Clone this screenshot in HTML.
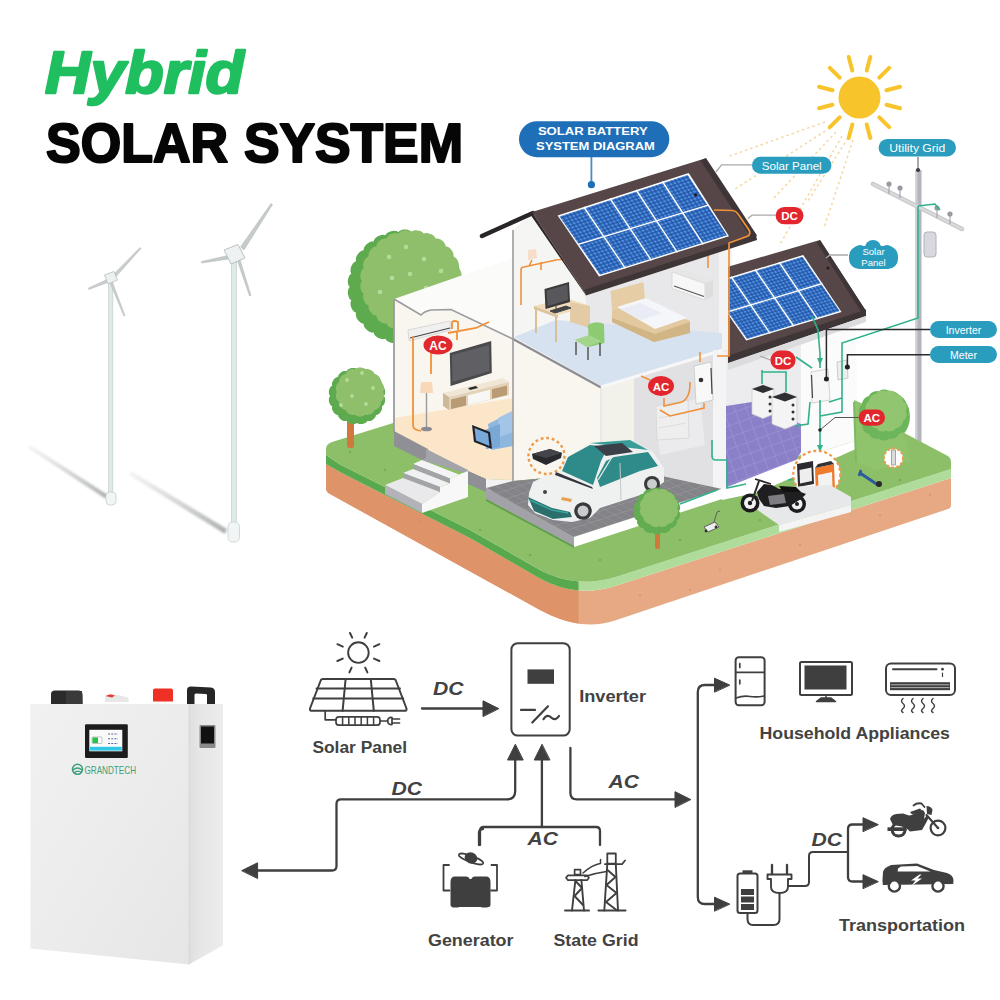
<!DOCTYPE html>
<html>
<head>
<meta charset="utf-8">
<style>
html,body{margin:0;padding:0;background:#fff;width:1000px;height:1000px;overflow:hidden;}
svg{display:block;}
text{font-family:"Liberation Sans",sans-serif;}
</style>
</head>
<body>
<svg width="1000" height="1000" viewBox="0 0 1000 1000">
<rect width="1000" height="1000" fill="#ffffff"/>

<!-- ============ TITLE ============ -->
<g id="title">
<text x="45" y="93" font-size="60" font-weight="bold" font-style="italic" fill="#1fbf60" stroke="#1fbf60" stroke-width="2.4" stroke-linejoin="round" textLength="199" lengthAdjust="spacingAndGlyphs">Hybrid</text>
<g fill="#060606" stroke="#060606" stroke-width="2.2" stroke-linejoin="round" font-size="55" font-weight="bold">
<text x="46" y="162" textLength="182" lengthAdjust="spacingAndGlyphs">SOLAR</text>
<text x="244" y="162" textLength="219" lengthAdjust="spacingAndGlyphs">SYSTEM</text>
</g>
</g>

<!-- ============ WIND TURBINES ============ -->
<g id="turbines">
<defs>
<filter id="blur3" x="-20%" y="-20%" width="140%" height="140%"><feGaussianBlur stdDeviation="2.2"/></filter>
<filter id="blur1" x="-20%" y="-20%" width="140%" height="140%"><feGaussianBlur stdDeviation="0.8"/></filter>
</defs>
<!-- shadows -->
<linearGradient id="sh1" gradientUnits="userSpaceOnUse" x1="28" y1="446" x2="108" y2="497"><stop offset="0" stop-color="#c4c6c6" stop-opacity="0.2"/><stop offset="1" stop-color="#a9acac" stop-opacity="0.95"/></linearGradient>
<linearGradient id="sh2" gradientUnits="userSpaceOnUse" x1="129" y1="472" x2="226" y2="532"><stop offset="0" stop-color="#c4c6c6" stop-opacity="0.2"/><stop offset="1" stop-color="#a9acac" stop-opacity="0.95"/></linearGradient>
<filter id="blur15" x="-20%" y="-20%" width="140%" height="140%"><feGaussianBlur stdDeviation="1.3"/></filter>
<path d="M30 445 L108 495 L106 499 L28 448 Z" fill="url(#sh1)" filter="url(#blur15)"/>
<path d="M131 471 L227 529 L225 534 L129 475 Z" fill="url(#sh2)" filter="url(#blur15)"/>
<!-- turbine 1 -->
<g>
<rect x="108.6" y="280" width="4.2" height="221" fill="#dfe9e7" stroke="#c3cfcd" stroke-width="0.7"/>
<rect x="106" y="492" width="10" height="13" rx="4" fill="#f2f5f5" stroke="#c8d0d0" stroke-width="0.8"/>
<path d="M111 277 L140 247.5 L141 248.5 L113 280 Z" fill="#c9cdcd" stroke="#b5baba" stroke-width="0.5"/>
<path d="M108 279 L88.5 288 L88.8 289.5 L109 282 Z" fill="#c9cdcd" stroke="#b5baba" stroke-width="0.5"/>
<path d="M112 281 L125 315.5 L123.8 316 L110 282.5 Z" fill="#c9cdcd" stroke="#b5baba" stroke-width="0.5"/>
<path d="M104.5 275 L114 271.5 L117.5 280 L108 284 Z" fill="#eef1f1" stroke="#b8bcbc" stroke-width="0.8"/>
</g>
<!-- turbine 2 -->
<g>
<rect x="231.4" y="252" width="5" height="286" fill="#dfe9e7" stroke="#c3cfcd" stroke-width="0.7"/>
<rect x="228" y="522" width="11.5" height="20" rx="4.5" fill="#f2f5f5" stroke="#c8d0d0" stroke-width="0.8"/>
<path d="M240.5 247 L271 203.5 L272.5 204.5 L244 250 Z" fill="#c5caca" stroke="#b0b6b6" stroke-width="0.5"/>
<path d="M228 255.5 L201.5 261.5 L201.8 263 L229 259 Z" fill="#c5caca" stroke="#b0b6b6" stroke-width="0.5"/>
<path d="M239.5 258 L251 295.5 L249.5 296 L237 259.5 Z" fill="#c5caca" stroke="#b0b6b6" stroke-width="0.5"/>
<path d="M224 250 L238 244.5 L245 258 L231 264 Z" fill="#eef1f1" stroke="#b5baba" stroke-width="0.9"/>
</g>
</g>

<!-- ============ HOUSE ============ -->
<g id="house">
<defs>
<pattern id="cells" width="1" height="1" patternUnits="userSpaceOnUse" patternTransform="matrix(3.746 -1.214 2.07 3.05 557.6 215.5)">
<rect width="1" height="1" fill="#1f50a6"/>
<rect x="0.17" y="0.17" width="0.66" height="0.66" fill="#5294de"/>
</pattern>
<pattern id="cells2" width="1" height="1" patternUnits="userSpaceOnUse" patternTransform="matrix(3.44 -1.036 1.9625 2.825 707 284)">
<rect width="1" height="1" fill="#1f50a6"/>
<rect x="0.17" y="0.17" width="0.66" height="0.66" fill="#5294de"/>
</pattern>
<pattern id="tiles" width="1" height="1" patternUnits="userSpaceOnUse" patternTransform="matrix(10 5.3 8 -2.6 486 488)">
<rect width="1" height="1" fill="#838388"/>
<path d="M0 0 H1 M0 0 V1" stroke="#9b9ba0" stroke-width="0.12"/>
</pattern>
<pattern id="ptiles" width="11" height="11" patternUnits="userSpaceOnUse" patternTransform="rotate(-20)">
<rect width="11" height="11" fill="#8a80c8"/>
<path d="M0 0 H11 M0 0 V11" stroke="#a59ddb" stroke-width="1"/>
</pattern>
</defs>

<!-- sun dashed rays -->
<g stroke="#f5d7a4" stroke-width="1.5" stroke-dasharray="2.5 3" fill="none">
<path d="M825 122 L727 157"/>
<path d="M830 128 L735 189"/>
<path d="M836 132 L772 200"/>
<path d="M842 136 L779 246"/>
<path d="M848 138 L808 201"/>
<path d="M853 140 L824 228"/>
</g>
<!-- sun -->
<g>
<circle cx="859.5" cy="97.5" r="21" fill="#f8c42b"/>
<g stroke="#f8c42b" stroke-width="4" stroke-linecap="round">
<path d="M866.7 70.5 L870.3 57 M879.3 77.7 L889.2 67.8 M886.5 90.3 L900 86.7 M886.5 104.7 L900 108.3 M879.3 117.3 L889.2 127.2 M866.7 124.5 L870.3 138 M852.3 124.5 L848.7 138 M839.7 117.3 L829.8 127.2 M832.5 104.7 L819 108.3 M832.5 90.3 L819 86.7 M839.7 77.7 L829.8 67.8 M852.3 70.5 L848.7 57"/>
</g>
</g>

<!-- big tree back left -->
<g>
<path d="M460.3 287.0 L461.5 288.7 L462.0 290.4 L462.2 292.2 L462.1 293.9 L461.7 295.6 L461.2 297.3 L460.3 298.9 L458.7 300.2 L459.5 302.2 L459.5 304.0 L459.3 305.7 L458.8 307.4 L458.0 309.0 L457.1 310.4 L455.8 311.7 L454.0 312.7 L454.2 314.8 L453.9 316.5 L453.2 318.2 L452.3 319.7 L451.2 321.0 L449.9 322.2 L448.4 323.2 L446.4 323.7 L446.2 325.8 L445.4 327.4 L444.3 328.8 L443.1 330.0 L441.7 331.1 L440.2 331.9 L438.5 332.5 L436.4 332.5 L435.7 334.5 L434.5 335.9 L433.2 337.0 L431.7 337.9 L430.1 338.6 L428.4 339.1 L426.6 339.2 L424.6 338.7 L423.4 340.4 L422.0 341.5 L420.4 342.3 L418.8 342.8 L417.0 343.1 L415.3 343.2 L413.5 342.9 L411.7 341.9 L410.1 343.3 L408.4 344.0 L406.7 344.4 L405.0 344.5 L403.3 344.4 L401.6 344.0 L399.9 343.3 L398.3 341.9 L396.5 342.9 L394.7 343.2 L393.0 343.1 L391.2 342.8 L389.6 342.3 L388.0 341.5 L386.6 340.4 L385.4 338.7 L383.4 339.2 L381.6 339.1 L379.9 338.6 L378.3 337.9 L376.8 337.0 L375.5 335.9 L374.3 334.5 L373.6 332.5 L371.5 332.5 L369.8 331.9 L368.3 331.1 L366.9 330.0 L365.7 328.8 L364.6 327.4 L363.8 325.8 L363.6 323.7 L361.6 323.2 L360.1 322.2 L358.8 321.0 L357.7 319.7 L356.8 318.2 L356.1 316.5 L355.8 314.8 L356.0 312.7 L354.2 311.7 L352.9 310.4 L352.0 309.0 L351.2 307.4 L350.7 305.7 L350.5 304.0 L350.5 302.2 L351.3 300.2 L349.7 298.9 L348.8 297.3 L348.3 295.6 L347.9 293.9 L347.8 292.2 L348.0 290.4 L348.5 288.7 L349.7 287.0 L348.5 285.3 L348.0 283.6 L347.8 281.8 L347.9 280.1 L348.3 278.4 L348.8 276.7 L349.7 275.1 L351.3 273.8 L350.5 271.8 L350.5 270.0 L350.7 268.3 L351.2 266.6 L352.0 265.0 L352.9 263.6 L354.2 262.3 L356.0 261.3 L355.8 259.2 L356.1 257.5 L356.8 255.8 L357.7 254.3 L358.8 253.0 L360.1 251.8 L361.6 250.8 L363.6 250.3 L363.8 248.2 L364.6 246.6 L365.7 245.2 L366.9 244.0 L368.3 242.9 L369.8 242.1 L371.5 241.5 L373.6 241.5 L374.3 239.5 L375.5 238.1 L376.8 237.0 L378.3 236.1 L379.9 235.4 L381.6 234.9 L383.4 234.8 L385.4 235.3 L386.6 233.6 L388.0 232.5 L389.6 231.7 L391.2 231.2 L393.0 230.9 L394.7 230.8 L396.5 231.1 L398.3 232.1 L399.9 230.7 L401.6 230.0 L403.3 229.6 L405.0 229.5 L406.7 229.6 L408.4 230.0 L410.1 230.7 L411.7 232.1 L413.5 231.1 L415.3 230.8 L417.0 230.9 L418.8 231.2 L420.4 231.7 L422.0 232.5 L423.4 233.6 L424.6 235.3 L426.6 234.8 L428.4 234.9 L430.1 235.4 L431.7 236.1 L433.2 237.0 L434.5 238.1 L435.7 239.5 L436.4 241.5 L438.5 241.5 L440.2 242.1 L441.7 242.9 L443.1 244.0 L444.3 245.2 L445.4 246.6 L446.2 248.2 L446.4 250.3 L448.4 250.8 L449.9 251.8 L451.2 253.0 L452.3 254.3 L453.2 255.8 L453.9 257.5 L454.2 259.2 L454.0 261.3 L455.8 262.3 L457.1 263.6 L458.0 265.0 L458.8 266.6 L459.3 268.3 L459.5 270.0 L459.5 271.8 L458.7 273.8 L460.3 275.1 L461.2 276.7 L461.7 278.4 L462.1 280.1 L462.2 281.8 L462.0 283.6 L461.5 285.3 Z" fill="#5daa4f"/>
<path d="M460.0 281.0 L461.1 282.6 L461.5 284.3 L461.7 286.0 L461.6 287.7 L461.2 289.3 L460.7 290.9 L459.8 292.4 L458.3 293.7 L459.0 295.6 L458.9 297.3 L458.6 298.9 L458.1 300.5 L457.4 302.0 L456.4 303.4 L455.2 304.6 L453.4 305.5 L453.6 307.5 L453.1 309.1 L452.4 310.7 L451.5 312.0 L450.4 313.3 L449.1 314.4 L447.6 315.3 L445.6 315.6 L445.3 317.6 L444.4 319.1 L443.3 320.4 L442.0 321.5 L440.7 322.4 L439.1 323.1 L437.5 323.6 L435.5 323.4 L434.6 325.2 L433.4 326.4 L432.0 327.4 L430.5 328.1 L428.9 328.6 L427.3 328.9 L425.6 329.0 L423.7 328.3 L422.4 329.8 L420.9 330.7 L419.3 331.2 L417.7 331.6 L416.0 331.7 L414.3 331.5 L412.6 331.1 L411.0 330.0 L409.4 331.1 L407.7 331.5 L406.0 331.7 L404.3 331.6 L402.7 331.2 L401.1 330.7 L399.6 329.8 L398.3 328.3 L396.4 329.0 L394.7 328.9 L393.1 328.6 L391.5 328.1 L390.0 327.4 L388.6 326.4 L387.4 325.2 L386.5 323.4 L384.5 323.6 L382.9 323.1 L381.3 322.4 L380.0 321.5 L378.7 320.4 L377.6 319.1 L376.7 317.6 L376.4 315.6 L374.4 315.3 L372.9 314.4 L371.6 313.3 L370.5 312.0 L369.6 310.7 L368.9 309.1 L368.4 307.5 L368.6 305.5 L366.8 304.6 L365.6 303.4 L364.6 302.0 L363.9 300.5 L363.4 298.9 L363.1 297.3 L363.0 295.6 L363.7 293.7 L362.2 292.4 L361.3 290.9 L360.8 289.3 L360.4 287.7 L360.3 286.0 L360.5 284.3 L360.9 282.6 L362.0 281.0 L360.9 279.4 L360.5 277.7 L360.3 276.0 L360.4 274.3 L360.8 272.7 L361.3 271.1 L362.2 269.6 L363.7 268.3 L363.0 266.4 L363.1 264.7 L363.4 263.1 L363.9 261.5 L364.6 260.0 L365.6 258.6 L366.8 257.4 L368.6 256.5 L368.4 254.5 L368.9 252.9 L369.6 251.3 L370.5 250.0 L371.6 248.7 L372.9 247.6 L374.4 246.7 L376.4 246.4 L376.7 244.4 L377.6 242.9 L378.7 241.6 L380.0 240.5 L381.3 239.6 L382.9 238.9 L384.5 238.4 L386.5 238.6 L387.4 236.8 L388.6 235.6 L390.0 234.6 L391.5 233.9 L393.1 233.4 L394.7 233.1 L396.4 233.0 L398.3 233.7 L399.6 232.2 L401.1 231.3 L402.7 230.8 L404.3 230.4 L406.0 230.3 L407.7 230.5 L409.4 230.9 L411.0 232.0 L412.6 230.9 L414.3 230.5 L416.0 230.3 L417.7 230.4 L419.3 230.8 L420.9 231.3 L422.4 232.2 L423.7 233.7 L425.6 233.0 L427.3 233.1 L428.9 233.4 L430.5 233.9 L432.0 234.6 L433.4 235.6 L434.6 236.8 L435.5 238.6 L437.5 238.4 L439.1 238.9 L440.7 239.6 L442.0 240.5 L443.3 241.6 L444.4 242.9 L445.3 244.4 L445.6 246.4 L447.6 246.7 L449.1 247.6 L450.4 248.7 L451.5 250.0 L452.4 251.3 L453.1 252.9 L453.6 254.5 L453.4 256.5 L455.2 257.4 L456.4 258.6 L457.4 260.0 L458.1 261.5 L458.6 263.1 L458.9 264.7 L459.0 266.4 L458.3 268.3 L459.8 269.6 L460.7 271.1 L461.2 272.7 L461.6 274.3 L461.7 276.0 L461.5 277.7 L461.1 279.4 Z" fill="#8fbf6b"/>
<g fill="#b3dc99"><circle cx="389" cy="257" r="2.3"/><circle cx="406" cy="247" r="2.3"/><circle cx="424" cy="259" r="2.3"/><circle cx="392" cy="278" r="2.3"/><circle cx="410" cy="274" r="2.3"/><circle cx="441" cy="271" r="2.3"/><circle cx="380" cy="292" r="2.3"/><circle cx="426" cy="288" r="2.3"/></g>
</g>
<!-- right tree -->
<g>
<circle cx="884" cy="417" r="26" fill="#6fb85a"/>
<circle cx="887" cy="413" r="22" fill="#8cc86f"/>
</g>

<!-- utility pole -->
<g>
<rect x="915.5" y="170" width="6" height="290" fill="#b4b4bc"/>
<rect x="915.5" y="170" width="2" height="290" fill="#cfd0d6"/>
<path d="M873 184 L962 229" stroke="#c8c8cc" stroke-width="4.5" stroke-linecap="round"/>
<path d="M873 184 L962 229" stroke="#dadade" stroke-width="2" stroke-linecap="round"/>
<g fill="#9a9aa2"><circle cx="889" cy="184" r="2.6"/><circle cx="900" cy="188" r="2.6"/><circle cx="937" cy="208" r="2.6"/><circle cx="950" cy="214" r="2.6"/></g>
<g stroke="#9a9aa2" stroke-width="1"><path d="M889 186 V194 M900 190 V198 M937 210 V218 M950 216 V224"/></g>
<rect x="924" y="232" width="12" height="25" rx="3" fill="#d8d8de" stroke="#b2b2ba" stroke-width="1"/>
<circle cx="918" cy="170" r="2" fill="#333"/>
<path d="M918 157 V170" stroke="#555" stroke-width="1"/>
</g>

<!-- ================= PLATFORM ================= -->
<g>
<clipPath id="leftface"><path d="M300 300 L578.5 300 L578.5 700 L300 700 Z"/></clipPath>
<!-- soil -->
<path d="M326 464 L340 472 L470 538 L540 578.5 Q576.3 598.3 615 586 L951 478 L951 505 Q951 508 948 509 L615 620.4 Q580 632 540 610 L330 494 Q326 492 326 488 Z" fill="#e7a983"/>
<path d="M326 464 L340 472 L470 538 L540 578.5 Q576.3 598.3 615 586 L951 478 L951 505 Q951 508 948 509 L615 620.4 Q580 632 540 610 L330 494 Q326 492 326 488 Z" fill="#de9369" clip-path="url(#leftface)"/>
<g fill="#cf845c" opacity="0.6"><circle cx="360" cy="488" r="1"/><circle cx="420" cy="522" r="1"/><circle cx="470" cy="560" r="1"/><circle cx="520" cy="587" r="1"/><circle cx="640" cy="595" r="1"/><circle cx="720" cy="570" r="1"/><circle cx="800" cy="545" r="1"/><circle cx="880" cy="515" r="1"/><circle cx="560" cy="605" r="1"/><circle cx="400" cy="502" r="1"/><circle cx="930" cy="495" r="1"/><circle cx="690" cy="590" r="1"/></g>
<!-- grass side bands -->
<path d="M326 455 L340 464.5 L470 530 L540 570 Q576.2 589 615 577.3 L951 469 L951 478 L615 586 Q576.3 598.3 540 578.5 L470 538 L340 472 L326 464 Z" fill="#afdc9b"/>
<path d="M326 455 L340 464.5 L470 530 L540 570 Q576.2 589 615 577.3 L951 469 L951 478 L615 586 Q576.3 598.3 540 578.5 L470 538 L340 472 L326 464 Z" fill="#58a94e" clip-path="url(#leftface)"/>
<!-- grass top -->
<path d="M332 442 L703 327 L946 455 Q951 457 951 462 L951 469 L615 577.3 Q576.2 589 540 570 L470 530 L340 464.5 L326 455 L326 449 Q326 444 332 442 Z" fill="#8dbf69"/>
<g fill="#76ab57"><circle cx="385" cy="470" r="1.2"/><circle cx="430" cy="500" r="1.2"/><circle cx="480" cy="530" r="1.2"/><circle cx="530" cy="555" r="1.2"/><circle cx="600" cy="560" r="1.2"/><circle cx="680" cy="540" r="1.2"/><circle cx="760" cy="520" r="1.2"/><circle cx="900" cy="480" r="1.2"/><circle cx="350" cy="452" r="1.2"/></g>
</g>

<!-- ================= HOUSE BODY ================= -->
<!-- white building mass (occludes tree) -->
<path d="M394 299 L463 275 L513 258 L513 230 L532 213 L584 291 L601 387 L601 480 L394 433 Z" fill="#fbfbfa"/>
<!-- living room interior -->
<path d="M395 300 L421 315 Q425 311 431 310 L451 309.5 L513 339 L513 480 L395 433 Z" fill="#f8f6ef"/>
<path d="M394 299 L421 315 Q425 311 431 310 L451 309.5 L513 339" fill="none" stroke="#9b9b9e" stroke-width="1.6"/>
<path d="M394 299 L394 433" stroke="#9b9b9e" stroke-width="1.8"/>
<!-- living floor -->
<path d="M395 418 L513 398 L513 480 L486 479 L468 471 L428 450 L395 433 Z" fill="#fce6ca"/>
<!-- TV -->
<path d="M449.8 353 L491.2 341 L491.8 373 L450.5 386 Z" fill="#4a4a4c"/>
<path d="M452 355 L489 345 L489.5 371 L452.5 382 Z" fill="#606064"/>
<!-- TV stand -->
<path d="M443 393 L503 378 L509 382 L449 397 Z" fill="#f0e6d6"/>
<path d="M449 397 L509 382 L509 395 L449 410 Z" fill="#e3d2b8"/>
<path d="M443 393 L449 397 L449 410 L443 406 Z" fill="#cdb898"/>
<path d="M451 399.5 L466 395.8 L466 405.5 L451 409 Z" fill="#b99c76"/>
<path d="M468 395.3 L490 389.8 L490 399.5 L468 405 Z" fill="#f7f7f5"/>
<path d="M492 389.3 L507 385.6 L507 395 L492 398.8 Z" fill="#b99c76"/>
<path d="M468 388 L476 386 L478 388 L470 390 Z" fill="#2a2a2a"/>
<!-- lamp -->
<path d="M421 382 L432 382 L433 393 L420 393 Z" fill="#f8d8b8"/>
<path d="M426.5 393 L426.5 427" stroke="#9a9a9a" stroke-width="1.4"/>
<ellipse cx="426.5" cy="429" rx="5.5" ry="2.3" fill="#8a8a90"/>
<!-- AC unit -->
<path d="M408 330 L450 321 L451 330 L409 341 Z" fill="#f0f0f0" stroke="#d0d0d0" stroke-width="0.8"/>
<path d="M410 338 L450 328" stroke="#444" stroke-width="1.2"/>
<!-- sofa -->
<path d="M488 424 L512 412 L513 446 L492 450 Z" fill="#8db7df"/>
<path d="M498 418 L512 411 L513 432 L499 437 Z" fill="#a3c6e8"/>
<path d="M485 430 L500 424 L500 447 L486 449 Z" fill="#7aa8d6"/>
<path d="M472 425 L490 432 L492 449 L474 442 Z" fill="#1f1f24"/>
<path d="M474.5 428 L488 433.5 L489.5 446 L476 440.5 Z" fill="#77a9da"/>
<!-- orange pipes living -->
<g fill="none" stroke="#f0913a" stroke-width="1.8">
<path d="M431 374 L431 349 Q431 346 434 346 L438 345"/>
<path d="M413 336 L413 425 Q413 429 417 430 L421 431"/>
<path d="M448 333 L476 328 L489 322 M457 331 L457 340 M452 329 L452 323 Q452 321 455 321 L458 322 L458 330"/>
</g>
<!-- AC label -->
<ellipse cx="438" cy="345" rx="14.5" ry="9.5" fill="#e0282e"/>
<text x="438" y="350" font-size="12" font-weight="bold" fill="#fff" text-anchor="middle">AC</text>

<!-- foundation under living room -->
<path d="M394 431 L428 449 L428 463 L394 446 Z" fill="#8f8f95"/>
<path d="M468 471 L486 479 L486 492 L468 484 Z" fill="#8f8f95"/>
<path d="M486 479 L513 480 L513 490 L486 492 Z" fill="#f2f2f2"/>
<!-- steps -->
<path d="M426 449 L468 470 L468 474 L422 460 L426 458 Z" fill="#a3a3aa"/>
<path d="M413 464 L450 478.5 L459 474.5 L422 460 Z" fill="#f4f4f6"/>
<path d="M413 464 L450 478.5 L450 483.5 L413 469 Z" fill="#a3a3aa"/>
<path d="M403 473 L440 487 L450 483.5 L413 469 Z" fill="#f1f1f3"/>
<path d="M403 473 L440 487 L440 492 L403 478 Z" fill="#a3a3aa"/>
<path d="M385 485 L403 478 L440 492 L422 504 Z" fill="#e9e9ec"/>
<path d="M385 485 L422 504 L422 513 L385 494 Z" fill="#b2b2b8"/>
<path d="M468 471 L459 474.5 L450 478.5 L450 483.5 L440 487 L440 492 L422 504 L422 513 L468 497 Z" fill="#f8f8f8"/>
<!-- ground floor garage back wall (cream) -->
<path d="M513 339 L601 387 L634 378 L634 470 L513 481 Z" fill="#f8f6ee"/>
<!-- utility room grey -->
<path d="M634 356 L723 349 L723 490 L634 470 Z" fill="#e1e1e3"/>
<path d="M655 410 L700 398 L705 445 L660 455 Z" fill="#ebebed"/>
<!-- column between garage & utility -->
<path d="M601 387 L634 378 L634 470 L601 475 Z" fill="#f2f1ea"/>

<!-- upper floor interior -->
<path d="M513 230 L532 213 L584 291 L601 387 L513 339 Z" fill="#f5f5f4"/>
<path d="M584 291 L721 249 L723 349 L601 387 Z" fill="#e8e8ea"/>
<path d="M719 250 L732 246 L732 362 L719 362 Z" fill="#f3f3f3"/>
<!-- upper floor blue floor -->
<path d="M514 337 L556 320 L722 333 L722 349 L601 386 Z" fill="#d6e2ef"/>
<path d="M513 339 L601 387.5" stroke="#8c8c90" stroke-width="2"/>
<path d="M601 387 L723 350" stroke="#f7f7f7" stroke-width="3"/>
<!-- bed -->
<path d="M610.5 291 L643.5 282 L645 300 L612 310.5 Z" fill="#e6cda5"/>
<path d="M612 310.5 L645 300 L690 321 L690 333 L654 342 L612 322 Z" fill="#e2c9a0"/>
<path d="M617 307 L646 298 L687 318 L655 329 Z" fill="#f5f6fa"/>
<path d="M620 309 L640 303 L662 313 L641 320 Z" fill="#e9ecf4"/>
<path d="M612 318 L655 334 L690 322 L690 333 L654 342 L612 322 Z" fill="#d2b585"/>
<!-- desk + monitor -->
<path d="M534 306 L566 298 L590 306 L558 315 Z" fill="#f0ddbc"/>
<path d="M534 306 L558 315 L558 318 L534 309 Z" fill="#dcc49c"/>
<path d="M536 309 L536 333 M556 317 L556 342 M588 308 L588 328" stroke="#d9bf95" stroke-width="2"/>
<path d="M570 302 L590 306 L590 328 L570 322 Z" fill="#e3cba5"/>
<path d="M544.5 289 L569 282 L570 302 L545.5 309 Z" fill="#3a3a3d"/>
<path d="M546.5 290.5 L567.5 284.5 L568 300 L547.5 306 Z" fill="#58585c"/>
<path d="M556 306 L556 310 M550 311 L566 306 L571 308 L555 313 Z" fill="#444" stroke="#444" stroke-width="1"/>
<!-- chair -->
<path d="M588 325 Q596 320 604 324 L604.5 343 L589 347 Z" fill="#8ccb72"/>
<path d="M574.5 340 L589 335 L601 341 L587 347 Z" fill="#a3d68a"/>
<path d="M576 342 L576 355 M588 347 L588 360 M600 343 L600 356" stroke="#555" stroke-width="1.5"/>
<!-- wall AC upper -->
<path d="M672 272 L680 269.5 L713 280.5 L705 283.5 Z" fill="#e6e6e6"/>
<path d="M672 272 L705 283.5 L705 300 L672 288.5 Z" fill="#f7f7f7" stroke="#d6d6d6" stroke-width="0.8"/>
<path d="M705 283.5 L713 280.5 L713 297 L705 300 Z" fill="#dedede"/>
<path d="M674 286 L704 296.5" stroke="#555" stroke-width="1.2"/>
<!-- upper pipes -->
<g fill="none" stroke="#f0913a" stroke-width="1.6">
<path d="M521 305 L521 270 Q521 267 524 267 L556 260 L573 258 M541 262 L541 270 M529 266 L532 260"/>
<path d="M708 255 L708 268"/>
</g>
<!-- lamp upper -->
<path d="M528 250 L536 249 L537 258 L528 260 Z" fill="#f8d8c0" opacity="0.8"/>
<!-- gable wall left edge line -->
<path d="M513 230 L513 481" stroke="#9b9b9e" stroke-width="1.6"/>
<path d="M601 387 L601 478" stroke="#dcdcd8" stroke-width="1"/>

<!-- battery room (right section) -->
<path d="M723 350 L801 342 L801 455 L723 490 Z" fill="#ececee"/>
<path d="M726 406 L752 402 L801 424 L801 452 L790 470 L726 488 Z" fill="url(#ptiles)"/>
<!-- right outer wall -->
<path d="M801 343 L856 326 L858 440 L801 458 Z" fill="#fbfbfb"/>
<!-- column left of purple -->
<path d="M713 350 L726 352 L726 490 L713 490 Z" fill="#f4f4f4"/>

<!-- driveway -->
<path d="M486 488 L513 481 L634 470 L722 489 L574 537 Z" fill="url(#tiles)"/>
<path d="M486 488 L574 537 L574 546 L486 499 Z" fill="#a2a2a8"/>
<path d="M486 499 L574 546 L574 548 L486 501 Z" fill="#5f9e4c"/>
<path d="M574 537 L722 489 L722 499 L574 547 Z" fill="#ffffff"/>
<!-- front strip / walkway on right -->
<path d="M722 489 L801 458 L858 440 L858 448 L760 492 L722 500 Z" fill="#ffffff"/>

<!-- ================= ROOFS ================= -->
<!-- gable eave line -->
<path d="M482 236 L533 213" stroke="#2a2628" stroke-width="4.5" stroke-linecap="round"/>
<!-- main roof -->
<path d="M532 212 L705 158.5 L756.5 236 L584 291.5 Z" fill="#564648"/>
<path d="M706 158 L757 235.5 L751 237.5 L700.5 160.5 Z" fill="#3e3537"/>
<path d="M583.5 290 L756 234.5 L757 240 L586 295.5 Z" fill="#3e3537"/>
<path d="M532 212 L584 291.5 L586 295.5 L530 214 Z" fill="#2e2829"/>
<!-- main panels -->
<path d="M557.6 215.5 L688.7 173 L729 236.2 L599 276.5 Z" fill="#ffffff"/>
<path d="M559.5 216.5 L687.7 175 L727 235.3 L600 274.8 Z" fill="url(#cells)"/>
<g stroke="#ffffff" stroke-width="1.4">
<path d="M578.3 244.3 L708.2 205.2"/>
<path d="M583.8 207.0 L625.4 268.4 M610.0 198.5 L651.4 260.4 M636.2 190.0 L677.4 252.3 M662.4 181.5 L703.3 244.3"/>
</g>
<circle cx="695.6" cy="194.8" r="1.6" fill="#1a1a1a"/>
<!-- second roof -->
<clipPath id="r2clip"><path d="M728 200 L900 200 L900 400 L728 400 Z"/></clipPath>
<g clip-path="url(#r2clip)">
<path d="M700 275 L820 240 L866 311 L728 358 L700 366 Z" fill="#564648"/>
<path d="M820 240 L866 311 L862 313 L817 243 Z" fill="#3e3537"/>
<path d="M700 365 L866 309.5 L866 316 L700 373 Z" fill="#3e3537"/>
<path d="M707 284 L803.25 255 L841.5 312 L746.25 340.5 Z" fill="#ffffff"/>
<path d="M708.5 285 L802.5 256.8 L839.7 311 L747 339 Z" fill="url(#cells2)"/>
<g stroke="#ffffff" stroke-width="1.4">
<path d="M726.6 312.25 L822.4 283.5"/>
<path d="M731.1 276.75 L770.1 333.4 M755.1 269.5 L793.9 326.25 M779.2 262.25 L817.7 319.1"/>
</g>
<circle cx="828" cy="268" r="1.6" fill="#222"/>
</g>
<!-- soffit under 2nd roof -->
<path d="M728 363 L866 316 L866 322 L728 370 Z" fill="#dcdcdf"/>
<!-- hedge / green wall right -->
<path d="M854 400 L900 420 L910 460 L878 470 L856 462 Z" fill="#8fc46d"/>
<path d="M908.0 415.0 L908.8 416.4 L909.1 417.8 L909.1 419.3 L908.9 420.7 L908.4 422.0 L907.8 423.3 L907.0 424.5 L905.6 425.4 L905.7 427.0 L905.4 428.4 L904.7 429.7 L903.9 430.9 L903.0 431.9 L901.8 432.8 L900.6 433.5 L899.0 433.8 L898.4 435.3 L897.4 436.4 L896.3 437.3 L895.1 438.0 L893.7 438.5 L892.3 438.8 L890.9 438.9 L889.3 438.4 L888.2 439.5 L886.8 440.1 L885.4 440.4 L884.0 440.5 L882.6 440.4 L881.2 440.1 L879.8 439.5 L878.7 438.4 L877.1 438.9 L875.7 438.8 L874.3 438.5 L872.9 438.0 L871.7 437.3 L870.6 436.4 L869.6 435.3 L869.0 433.8 L867.4 433.5 L866.2 432.8 L865.0 431.9 L864.1 430.9 L863.3 429.7 L862.6 428.4 L862.3 427.0 L862.4 425.4 L861.0 424.5 L860.2 423.3 L859.6 422.0 L859.1 420.7 L858.9 419.3 L858.9 417.8 L859.2 416.4 L860.0 415.0 L859.2 413.6 L858.9 412.2 L858.9 410.7 L859.1 409.3 L859.6 408.0 L860.2 406.7 L861.0 405.5 L862.4 404.6 L862.3 403.0 L862.6 401.6 L863.3 400.3 L864.1 399.1 L865.0 398.1 L866.2 397.2 L867.4 396.5 L869.0 396.2 L869.6 394.7 L870.6 393.6 L871.7 392.7 L872.9 392.0 L874.3 391.5 L875.7 391.2 L877.1 391.1 L878.7 391.6 L879.8 390.5 L881.2 389.9 L882.6 389.6 L884.0 389.5 L885.4 389.6 L886.8 389.9 L888.2 390.5 L889.3 391.6 L890.9 391.1 L892.3 391.2 L893.7 391.5 L895.1 392.0 L896.3 392.7 L897.4 393.6 L898.4 394.7 L899.0 396.2 L900.6 396.5 L901.8 397.2 L903.0 398.1 L903.9 399.1 L904.7 400.3 L905.4 401.6 L905.7 403.0 L905.6 404.6 L907.0 405.5 L907.8 406.7 L908.4 408.0 L908.9 409.3 L909.1 410.7 L909.1 412.2 L908.8 413.6 Z" fill="#6db55a"/>
<path d="M905.6 411.0 L906.3 412.3 L906.6 413.7 L906.5 415.1 L906.3 416.4 L905.8 417.7 L905.2 418.9 L904.3 420.0 L903.0 420.8 L903.0 422.3 L902.5 423.6 L901.7 424.8 L900.8 425.8 L899.8 426.7 L898.6 427.5 L897.3 428.0 L895.8 428.0 L895.0 429.3 L893.9 430.2 L892.7 430.8 L891.4 431.3 L890.1 431.5 L888.7 431.6 L887.3 431.3 L886.0 430.6 L884.7 431.3 L883.3 431.6 L881.9 431.5 L880.6 431.3 L879.3 430.8 L878.1 430.2 L877.0 429.3 L876.2 428.0 L874.7 428.0 L873.4 427.5 L872.2 426.7 L871.2 425.8 L870.3 424.8 L869.5 423.6 L869.0 422.3 L869.0 420.8 L867.7 420.0 L866.8 418.9 L866.2 417.7 L865.7 416.4 L865.5 415.1 L865.4 413.7 L865.7 412.3 L866.4 411.0 L865.7 409.7 L865.4 408.3 L865.5 406.9 L865.7 405.6 L866.2 404.3 L866.8 403.1 L867.7 402.0 L869.0 401.2 L869.0 399.7 L869.5 398.4 L870.3 397.2 L871.2 396.2 L872.2 395.3 L873.4 394.5 L874.7 394.0 L876.2 394.0 L877.0 392.7 L878.1 391.8 L879.3 391.2 L880.6 390.7 L881.9 390.5 L883.3 390.4 L884.7 390.7 L886.0 391.4 L887.3 390.7 L888.7 390.4 L890.1 390.5 L891.4 390.7 L892.7 391.2 L893.9 391.8 L895.0 392.7 L895.8 394.0 L897.3 394.0 L898.6 394.5 L899.8 395.3 L900.8 396.2 L901.7 397.2 L902.5 398.4 L903.0 399.7 L903.0 401.2 L904.3 402.0 L905.2 403.1 L905.8 404.3 L906.3 405.6 L906.5 406.9 L906.6 408.3 L906.3 409.7 Z" fill="#92c56f"/>
<path d="M854 402 L856 462" stroke="#7db862" stroke-width="2"/>

<!-- right section devices -->
<!-- battery modules -->
<g>
<path d="M752 389 L763 385 L774 389 L774 414 L763 418.5 L752 414 Z" fill="#f4f4f4" stroke="#c9c9c9" stroke-width="0.7"/>
<path d="M752 389 L763 385 L774 389 L763 393 Z" fill="#2f2f33"/>
<path d="M772 397 L785 392.5 L797 397 L797 424 L785 429 L772 424 Z" fill="#f4f4f4" stroke="#c9c9c9" stroke-width="0.7"/>
<path d="M772 397 L785 392.5 L797 397 L785 401.5 Z" fill="#2f2f33"/>
<g fill="#333"><circle cx="770" cy="397" r="1.5"/><circle cx="770" cy="404" r="1.5"/><circle cx="770" cy="411" r="1.5"/><circle cx="793" cy="405" r="1.5"/><circle cx="793" cy="412" r="1.5"/><circle cx="793" cy="419" r="1.5"/></g>
</g>
<!-- inverter right -->
<path d="M811 372 L828 369 L830 400 L812 403 Z" fill="#f7f7f7" stroke="#c8c8c8" stroke-width="0.8"/>
<path d="M811.5 375 L812.5 398" stroke="#444" stroke-width="1.2"/>
<!-- meter -->
<path d="M837 362 L847 360 L848 378 L838 380 Z" fill="#eeeeee" stroke="#c0c0c0" stroke-width="0.8"/>
<!-- utility inverter + panel -->
<path d="M694 366 L711 362 L713 400 L696 404 Z" fill="#f8f8f8" stroke="#c8c8c8" stroke-width="0.8"/>
<circle cx="701" cy="380" r="2.3" fill="#333"/>
<path d="M711 368 L712 394" stroke="#444" stroke-width="1.2"/>
<path d="M656 406 L688 400 L689 438 L657 440 Z" fill="#eeeeef" stroke="#d2d2d2" stroke-width="0.7"/>
<path d="M659 418 L686 413 M659 428 L686 423" stroke="#d8d8d8" stroke-width="0.8"/>
<!-- utility orange pipes -->
<g fill="none" stroke="#f0913a" stroke-width="1.6">
<path d="M690 382 L690 384 Q690 398 682 402 L664 406 L664 398 M704 403 L704 408 L670 416 L660 410 M700 352 L700 362"/>
<path d="M641 376 L650 380"/>
</g>
<!-- teal wires -->
<g fill="none" stroke="#2fb28c" stroke-width="1.6">
<path d="M918 206 L918 318 L842 343 L842 398 L829 402"/>
<path d="M918 206 L935 204 L940 210"/>
<path d="M812 316 L818 330 L820 354 L820 368"/>
<path d="M796 357 L812 368"/>
<path d="M762 370 L762 384 M762 372 L786 372 L786 392"/>
<path d="M820 400 L820 452"/>
<path d="M842 398 L842 412 L820 416"/>
<path d="M795 426 L808 424 L810 402"/>
<path d="M712 440 L712 456 Q712 460 716 460 L727 460 L727 488 L746 484"/>
<path d="M680 504 L717 490"/>
<path d="M788 480 L805 478"/>
</g>
<g fill="#2fb28c"><path d="M820 452 L817 445 L823 445 Z"/><path d="M820 365 L817 358 L823 358 Z"/></g>
<!-- black wires to labels -->
<g fill="none" stroke="#2a2a2a" stroke-width="1.5">
<path d="M930 329.6 L826.4 329.6 L826.4 378"/>
<path d="M930 354.8 L847.4 354.8 L847.4 366"/>
</g>
<circle cx="826.4" cy="379" r="2.5" fill="#222"/>
<circle cx="847.4" cy="367" r="2.5" fill="#222"/>
<!-- AC line right -->
<path d="M858.6 417.5 L835 417.5 L820 430" fill="none" stroke="#555" stroke-width="1"/>
<circle cx="820" cy="430" r="1.8" fill="#222"/>

<!-- battery dashed circle w/ batteries -->
<circle cx="816.8" cy="474.3" r="23.5" fill="#ffffff" stroke="#ee9a4a" stroke-width="2.2" stroke-dasharray="3 2.6"/>
<path d="M797 464 L813 461 L814 484 L798 487 Z" fill="#2c2c30"/>
<path d="M799.5 470 L811.5 467.5 L812 481 L800 483.5 Z" fill="#eeeeee"/>
<path d="M815 468 L834 464 L835 491 L816 496 Z" fill="#ee7a2a"/>
<path d="M818 475 L832 472 L832.5 488 L818.5 491 Z" fill="#f3f3f3"/>
<path d="M815 468 L834 464 L831 461 L818 464 Z" fill="#333"/>

<!-- walkway -->
<path d="M746 502 L790 487 L830 485 L851 497 L851 505 L779 525 Z" fill="#e7e8ea"/>
<path d="M779 525 L851 505 L851 512 L779 532 Z" fill="#f4f4f4"/>
<!-- motorcycle -->
<g>
<circle cx="750" cy="503" r="9.5" fill="#1c1c1e"/>
<circle cx="750" cy="503" r="6" fill="#f2f2f2"/>
<circle cx="750" cy="503" r="2.2" fill="#1c1c1e"/>
<circle cx="797" cy="504" r="9" fill="#1c1c1e"/>
<circle cx="797" cy="504" r="5.5" fill="#efefef"/>
<circle cx="797" cy="504" r="2" fill="#1c1c1e"/>
<path d="M757 492 L764 484 L772 485 L779 489 L793 489 L806 494 L801 499 L790 506 L776 508 L764 506 L759 499 Z" fill="#1f1f22"/>
<path d="M768 496 L784 494 L786 503 L770 505 Z" fill="#7d7d82"/>
<path d="M752 501 L759 481" stroke="#2a2a2d" stroke-width="2"/>
<path d="M755 479 L771 484" stroke="#2a2a2d" stroke-width="1.8"/>
<path d="M779 486 L796 487 L801 492 L783 492 Z" fill="#111"/>
</g>

<!-- scooter -->
<path d="M860 473 L878 485" stroke="#2c5a9e" stroke-width="3" stroke-linecap="round"/>
<path d="M861 470 L859 476" stroke="#2c5a9e" stroke-width="2.5"/>
<circle cx="879" cy="484" r="3" fill="#2a2a2a"/>
<!-- i-circle -->
<circle cx="893.5" cy="458" r="9.5" fill="#fff" stroke="#ee9a4a" stroke-width="2" stroke-dasharray="2.6 2.2"/>
<rect x="891.5" y="450" width="4" height="15" fill="#dcdcdc" stroke="#777" stroke-width="0.6"/>

<!-- lawnmower -->
<path d="M704 527 L715 522 L719 527 L708 532 Z" fill="#eeeeee" stroke="#555" stroke-width="0.9"/>
<circle cx="706" cy="531" r="1.4" fill="#333"/><circle cx="716" cy="527" r="1.4" fill="#333"/>
<path d="M714 522 L717 512 L720 511" stroke="#555" stroke-width="0.9" fill="none"/>

<!-- small tree left -->
<g>
<rect x="347" y="418" width="7" height="30" rx="2" fill="#d1783c"/>
<path d="M383.9 396.0 L384.8 397.4 L385.1 398.8 L385.1 400.2 L385.0 401.6 L384.6 402.9 L384.0 404.2 L383.2 405.4 L381.9 406.3 L382.1 407.9 L381.9 409.3 L381.4 410.6 L380.7 411.8 L379.8 412.9 L378.8 413.9 L377.6 414.7 L376.0 415.0 L375.7 416.6 L374.9 417.8 L373.9 418.8 L372.8 419.7 L371.6 420.4 L370.3 420.9 L368.9 421.1 L367.3 420.9 L366.4 422.2 L365.2 423.0 L363.9 423.6 L362.6 424.0 L361.2 424.1 L359.8 424.1 L358.4 423.8 L357.0 422.9 L355.6 423.8 L354.2 424.1 L352.8 424.1 L351.4 424.0 L350.1 423.6 L348.8 423.0 L347.6 422.2 L346.7 420.9 L345.1 421.1 L343.7 420.9 L342.4 420.4 L341.2 419.7 L340.1 418.8 L339.1 417.8 L338.3 416.6 L338.0 415.0 L336.4 414.7 L335.2 413.9 L334.2 412.9 L333.3 411.8 L332.6 410.6 L332.1 409.3 L331.9 407.9 L332.1 406.3 L330.8 405.4 L330.0 404.2 L329.4 402.9 L329.0 401.6 L328.9 400.2 L328.9 398.8 L329.2 397.4 L330.1 396.0 L329.2 394.6 L328.9 393.2 L328.9 391.8 L329.0 390.4 L329.4 389.1 L330.0 387.8 L330.8 386.6 L332.1 385.7 L331.9 384.1 L332.1 382.7 L332.6 381.4 L333.3 380.2 L334.2 379.1 L335.2 378.1 L336.4 377.3 L338.0 377.0 L338.3 375.4 L339.1 374.2 L340.1 373.2 L341.2 372.3 L342.4 371.6 L343.7 371.1 L345.1 370.9 L346.7 371.1 L347.6 369.8 L348.8 369.0 L350.1 368.4 L351.4 368.0 L352.8 367.9 L354.2 367.9 L355.6 368.2 L357.0 369.1 L358.4 368.2 L359.8 367.9 L361.2 367.9 L362.6 368.0 L363.9 368.4 L365.2 369.0 L366.4 369.8 L367.3 371.1 L368.9 370.9 L370.3 371.1 L371.6 371.6 L372.8 372.3 L373.9 373.2 L374.9 374.2 L375.7 375.4 L376.0 377.0 L377.6 377.3 L378.8 378.1 L379.8 379.1 L380.7 380.2 L381.4 381.4 L381.9 382.7 L382.1 384.1 L381.9 385.7 L383.2 386.6 L384.0 387.8 L384.6 389.1 L385.0 390.4 L385.1 391.8 L385.1 393.2 L384.8 394.6 Z" fill="#5daa4f"/>
<path d="M383.0 392.0 L383.8 393.3 L384.1 394.7 L384.1 396.1 L383.9 397.5 L383.5 398.8 L382.9 400.0 L382.0 401.1 L380.7 402.0 L380.9 403.5 L380.5 404.9 L379.9 406.1 L379.2 407.3 L378.2 408.3 L377.1 409.1 L375.9 409.8 L374.3 410.0 L373.8 411.4 L372.9 412.5 L371.8 413.4 L370.6 414.1 L369.3 414.6 L368.0 414.9 L366.6 414.9 L365.1 414.4 L364.0 415.5 L362.7 416.1 L361.4 416.4 L360.0 416.5 L358.6 416.4 L357.3 416.1 L356.0 415.5 L354.9 414.4 L353.4 414.9 L352.0 414.9 L350.7 414.6 L349.4 414.1 L348.2 413.4 L347.1 412.5 L346.2 411.4 L345.7 410.0 L344.1 409.8 L342.9 409.1 L341.8 408.3 L340.8 407.3 L340.1 406.1 L339.5 404.9 L339.1 403.5 L339.3 402.0 L338.0 401.1 L337.1 400.0 L336.5 398.8 L336.1 397.5 L335.9 396.1 L335.9 394.7 L336.2 393.3 L337.0 392.0 L336.2 390.7 L335.9 389.3 L335.9 387.9 L336.1 386.5 L336.5 385.2 L337.1 384.0 L338.0 382.9 L339.3 382.0 L339.1 380.5 L339.5 379.1 L340.1 377.9 L340.8 376.7 L341.8 375.7 L342.9 374.9 L344.1 374.2 L345.7 374.0 L346.2 372.6 L347.1 371.5 L348.2 370.6 L349.4 369.9 L350.7 369.4 L352.0 369.1 L353.4 369.1 L354.9 369.6 L356.0 368.5 L357.3 367.9 L358.6 367.6 L360.0 367.5 L361.4 367.6 L362.7 367.9 L364.0 368.5 L365.1 369.6 L366.6 369.1 L368.0 369.1 L369.3 369.4 L370.6 369.9 L371.8 370.6 L372.9 371.5 L373.8 372.6 L374.3 374.0 L375.9 374.2 L377.1 374.9 L378.2 375.7 L379.2 376.7 L379.9 377.9 L380.5 379.1 L380.9 380.5 L380.7 382.0 L382.0 382.9 L382.9 384.0 L383.5 385.2 L383.9 386.5 L384.1 387.9 L384.1 389.3 L383.8 390.7 Z" fill="#8fbf6b"/>
<g fill="#b3dc99"><circle cx="347" cy="380" r="1.9"/><circle cx="362" cy="373" r="1.9"/><circle cx="373" cy="388" r="1.9"/><circle cx="352" cy="396" r="1.9"/><circle cx="366" cy="404" r="1.9"/><circle cx="341" cy="405" r="1.9"/></g>
</g>

<!-- car -->
<g>
<path d="M528 505 L529 493 L533 482 L545 476 L560 472 L567 458 L590 443 L630 440 L653 452 L664 468 L664 482 L650 492 L600 508 L590 518 L572 522 L553 520 L535 513 Z" fill="#eff1f1"/>
<path d="M562 471 L568 457 L590 445 L608 447 L601 461 L596 476 L593 485 Z" fill="#2e8b89"/>
<path d="M590 443 L630 440 L648 450 L614 446 Z" fill="#3a9c98"/>
<path d="M594 446 L622 443 L633 452 L606 456 Z" fill="#3b3f48"/>
<path d="M597 478 L606 461 L614 457 L648 452 L658 466 L640 471 L600 487 Z" fill="#2e8b89"/>
<path d="M556 472 L592 487 L593 489 L555 475 Z" fill="#33363f"/>
<path d="M620 463 L621 500" stroke="#c5caca" stroke-width="1"/>
<path d="M598 480 L612 457" stroke="#e8eaea" stroke-width="1.3"/>
<path d="M528 497 L552 508 L570 512 L572 517 L553 519 L534 511 Z" fill="#2a6f6c"/>
<path d="M530 500 L552 510 L568 513" stroke="#3aa39d" stroke-width="1.5" fill="none"/>
<path d="M562 497 L572 499 L571 502 L561 500 Z" fill="#e9a050"/>
<circle cx="545" cy="492" r="2" fill="#444"/>
<circle cx="583" cy="511" r="8.8" fill="#3a3a3e"/>
<circle cx="583" cy="511" r="5.5" fill="#c9cdcd"/>
<circle cx="652" cy="484" r="8" fill="#3a3a3e"/>
<circle cx="652" cy="484" r="5" fill="#c9cdcd"/>
<circle cx="546.5" cy="456" r="18" fill="none" stroke="#ee9a4a" stroke-width="2.4" stroke-dasharray="2.8 2.8"/>
<path d="M532 454 L550 449 L562 453 L561 458 L546 465 L533 459 Z" fill="#2a2a2e"/>
<path d="M532 454 L550 449 L562 453 L546 458 Z" fill="#44444a"/>
</g>

<!-- front tree -->
<g>
<rect x="655" y="525" width="5" height="24" rx="2" fill="#d1783c"/>
<path d="M679.0 511.0 L679.8 512.3 L680.1 513.6 L680.1 514.9 L679.9 516.2 L679.5 517.5 L678.9 518.7 L678.1 519.7 L676.8 520.5 L677.0 522.0 L676.7 523.4 L676.1 524.6 L675.4 525.7 L674.5 526.6 L673.4 527.4 L672.2 528.0 L670.7 528.2 L670.2 529.6 L669.4 530.7 L668.3 531.5 L667.2 532.2 L666.0 532.6 L664.7 532.9 L663.3 533.0 L661.9 532.4 L660.8 533.5 L659.6 534.1 L658.3 534.4 L657.0 534.5 L655.7 534.4 L654.4 534.1 L653.2 533.5 L652.1 532.4 L650.7 533.0 L649.3 532.9 L648.0 532.6 L646.8 532.2 L645.7 531.5 L644.6 530.7 L643.8 529.6 L643.3 528.2 L641.8 528.0 L640.6 527.4 L639.5 526.6 L638.6 525.7 L637.9 524.6 L637.3 523.4 L637.0 522.0 L637.2 520.5 L635.9 519.7 L635.1 518.7 L634.5 517.5 L634.1 516.2 L633.9 514.9 L633.9 513.6 L634.2 512.3 L635.0 511.0 L634.2 509.7 L633.9 508.4 L633.9 507.1 L634.1 505.8 L634.5 504.5 L635.1 503.3 L635.9 502.3 L637.2 501.5 L637.0 500.0 L637.3 498.6 L637.9 497.4 L638.6 496.3 L639.5 495.4 L640.6 494.6 L641.8 494.0 L643.3 493.8 L643.8 492.4 L644.6 491.3 L645.7 490.5 L646.8 489.8 L648.0 489.4 L649.3 489.1 L650.7 489.0 L652.1 489.6 L653.2 488.5 L654.4 487.9 L655.7 487.6 L657.0 487.5 L658.3 487.6 L659.6 487.9 L660.8 488.5 L661.9 489.6 L663.3 489.0 L664.7 489.1 L666.0 489.4 L667.2 489.8 L668.3 490.5 L669.4 491.3 L670.2 492.4 L670.7 493.8 L672.2 494.0 L673.4 494.6 L674.5 495.4 L675.4 496.3 L676.1 497.4 L676.7 498.6 L677.0 500.0 L676.8 501.5 L678.1 502.3 L678.9 503.3 L679.5 504.5 L679.9 505.8 L680.1 507.1 L680.1 508.4 L679.8 509.7 Z" fill="#62ad52"/>
<path d="M677.1 508.0 L677.8 509.2 L678.1 510.5 L678.1 511.8 L677.8 513.0 L677.4 514.2 L676.8 515.4 L675.9 516.4 L674.7 517.1 L674.7 518.5 L674.3 519.7 L673.6 520.8 L672.8 521.8 L671.8 522.6 L670.7 523.3 L669.5 523.7 L668.1 523.7 L667.4 524.9 L666.4 525.8 L665.2 526.4 L664.0 526.8 L662.8 527.1 L661.5 527.1 L660.2 526.8 L659.0 526.1 L657.8 526.8 L656.5 527.1 L655.2 527.1 L654.0 526.8 L652.8 526.4 L651.6 525.8 L650.6 524.9 L649.9 523.7 L648.5 523.7 L647.3 523.3 L646.2 522.6 L645.2 521.8 L644.4 520.8 L643.7 519.7 L643.3 518.5 L643.3 517.1 L642.1 516.4 L641.2 515.4 L640.6 514.2 L640.2 513.0 L639.9 511.8 L639.9 510.5 L640.2 509.2 L640.9 508.0 L640.2 506.8 L639.9 505.5 L639.9 504.2 L640.2 503.0 L640.6 501.8 L641.2 500.6 L642.1 499.6 L643.3 498.9 L643.3 497.5 L643.7 496.3 L644.4 495.2 L645.2 494.2 L646.2 493.4 L647.3 492.7 L648.5 492.3 L649.9 492.3 L650.6 491.1 L651.6 490.2 L652.8 489.6 L654.0 489.2 L655.2 488.9 L656.5 488.9 L657.8 489.2 L659.0 489.9 L660.2 489.2 L661.5 488.9 L662.8 488.9 L664.0 489.2 L665.2 489.6 L666.4 490.2 L667.4 491.1 L668.1 492.3 L669.5 492.3 L670.7 492.7 L671.8 493.4 L672.8 494.2 L673.6 495.2 L674.3 496.3 L674.7 497.5 L674.7 498.9 L675.9 499.6 L676.8 500.6 L677.4 501.8 L677.8 503.0 L678.1 504.2 L678.1 505.5 L677.8 506.8 Z" fill="#8fc06b"/>
</g>

<!-- orange pipe down right of main roof -->
<path d="M714 210 L733 210.5 Q736 211 738 214 L749 230 Q751 234 748 236 L729 243 L729 356 L717 356" fill="none" stroke="#f0913a" stroke-width="1.7"/>

<!-- ================= LABELS ================= -->
<g font-weight="bold">
<!-- solar battery system diagram -->
<path d="M591.4 157 L591.4 184" stroke="#4a8bc9" stroke-width="1.8"/>
<circle cx="591.4" cy="184.7" r="3.6" fill="#1f6fb8"/>
<rect x="519" y="121.2" width="150.3" height="36" rx="18" fill="#1f6fb8"/>
<text x="537.9" y="135.4" font-size="11.8" fill="#fff" textLength="109.8" lengthAdjust="spacingAndGlyphs">SOLAR BATTERY</text>
<text x="536" y="149.6" font-size="11.8" fill="#fff" textLength="118.9" lengthAdjust="spacingAndGlyphs">SYSTEM DIAGRAM</text>
<!-- grey leader lines -->
<g fill="none" stroke="#a9a9a9" stroke-width="1.3">
<path d="M752 164.8 L721.6 164.8 L716 172"/>
<path d="M775.6 215.2 L752 215.2 L747.7 218.8"/>
<path d="M848 255 L830 255 L826 258"/>
<path d="M770.4 360 L760 356"/>
</g>
<!-- Solar Panel pill -->
<rect x="752" y="156.7" width="79.4" height="17.1" rx="8.5" fill="#2a9dbf"/>
<text x="791.7" y="169.6" font-size="10.5" font-weight="normal" fill="#fff" text-anchor="middle" textLength="60" lengthAdjust="spacingAndGlyphs">Solar Panel</text>
<!-- DC pill upper -->
<rect x="775.6" y="207" width="27.9" height="17.2" rx="8.6" fill="#e3262d"/>
<text x="789.5" y="220" font-size="11.5" fill="#fff" text-anchor="middle">DC</text>
<!-- Utility Grid -->
<rect x="878.6" y="139" width="77.4" height="17.4" rx="8.7" fill="#2a9dbf"/>
<text x="917.3" y="151.8" font-size="10.5" font-weight="normal" fill="#fff" text-anchor="middle" textLength="56" lengthAdjust="spacingAndGlyphs">Utility Grid</text>
<!-- Solar Panel cloud -->
<g fill="#2a9dbf">
<rect x="849" y="246" width="49" height="23" rx="10"/>
<circle cx="873" cy="248" r="8"/><circle cx="860" cy="251" r="6"/><circle cx="887" cy="251" r="6"/>
</g>
<text x="873.5" y="254.5" font-size="9.5" font-weight="normal" fill="#fff" text-anchor="middle">Solar</text>
<text x="873.5" y="265.5" font-size="9.5" font-weight="normal" fill="#fff" text-anchor="middle">Panel</text>
<!-- Inverter / Meter -->
<rect x="930" y="321" width="67" height="17" rx="8.5" fill="#2a9dbf"/>
<text x="963.5" y="333.5" font-size="10.5" font-weight="normal" fill="#fff" text-anchor="middle">Inverter</text>
<rect x="930" y="346" width="67" height="17" rx="8.5" fill="#2a9dbf"/>
<text x="963.5" y="358.5" font-size="10.5" font-weight="normal" fill="#fff" text-anchor="middle">Meter</text>
<!-- DC lower -->
<rect x="770.4" y="350.6" width="25.2" height="19" rx="9.5" fill="#e3262d"/>
<text x="783" y="364.5" font-size="11.5" fill="#fff" text-anchor="middle">DC</text>
<!-- AC right -->
<rect x="858.6" y="409.4" width="26.4" height="16.3" rx="8.1" fill="#e3262d"/>
<text x="871.8" y="422" font-size="11.5" fill="#fff" text-anchor="middle">AC</text>
<!-- AC utility -->
<ellipse cx="661" cy="386" rx="13" ry="10" fill="#e3262d"/>
<text x="661" y="390.5" font-size="11.5" fill="#fff" text-anchor="middle">AC</text>
</g>

<!-- ============ DIAGRAM ============ -->
<g id="diagram" fill="none" stroke="#3f3f3f" stroke-width="2.3" stroke-linecap="round" stroke-linejoin="round">
<!-- small sun -->
<circle cx="358.4" cy="652.6" r="10.3" stroke-width="1.9"/>
<g stroke-width="2">
<path d="M350 633 L352.2 637.6 M366.8 633 L364.6 637.6 M337.4 644.2 L342.8 646.6 M379.4 644.2 L374 646.6 M337.4 661 L342.8 658.6 M379.4 661 L374 658.6 M349.4 672.4 L351.6 667.6 M367.4 672.4 L365.2 667.6"/>
</g>
<!-- solar panel icon -->
<path d="M323 679 L393.5 679 Q395.5 679 396 681 L406.5 708.5 Q407 710.8 404.5 710.8 L312 710.8 Q309.5 710.8 310 708.5 L320.5 681 Q321 679 323 679 Z" stroke-width="2"/>
<path d="M316.5 688.5 L400 688.5 M313.2 698.6 L403.2 698.6 M345.6 679 L342.6 710.8 M370.8 679 L373.8 710.8" stroke-width="2"/>
<path d="M325.2 711.4 L325.2 719.8 L336 719.8" stroke-width="1.7"/>
<rect x="336" y="716.8" width="44" height="8.4" rx="3" stroke-width="1.7"/>
<path d="M342.6 716.8 V725.2 M348.8 716.8 V725.2 M355 716.8 V725.2 M361.2 716.8 V725.2 M367.4 716.8 V725.2 M373.6 716.8 V725.2 M380 721 L388 721" stroke-width="1.5"/>
<path d="M392 717.5 A3.6 3.6 0 1 0 392 724.5 Z M392 719 L399.5 719 M392 723 L399.5 723" stroke-width="1.7"/>
<!-- DC arrow solar->inverter -->
<path d="M422 708.5 L484 708.5"/>
<path d="M498.5 708.5 L483 700.8 L483 716.2 Z" fill="#3f3f3f" stroke-width="1"/>
<!-- inverter -->
<rect x="511.4" y="643.2" width="58.3" height="92.4" rx="6.4" stroke-width="2"/>
<rect x="527.5" y="669.4" width="26.5" height="14.4" fill="#3f3f3f" stroke="none"/>
<path d="M521 709.9 L535 709.9 M532.3 722.5 L548 706.3 M543.5 719.2 Q547 713.5 551.2 717.5 Q555.4 721.5 559 716" stroke-width="2.2"/>
<!-- arrows up into inverter -->
<path d="M515.2 758 L515.2 791 Q515.2 799.4 507 799.4 L341 799.4 Q336.5 799.4 336.5 804 L336.5 866 Q336.5 870.5 332 870.5 L257 870.5"/>
<path d="M515.2 744.6 L507.5 760 L522.9 760 Z" fill="#3f3f3f" stroke-width="1"/>
<path d="M242 870.5 L257.6 862.8 L257.6 878.2 Z" fill="#3f3f3f" stroke-width="1"/>
<path d="M541.9 758 L541.9 827"/>
<path d="M541.9 744.6 L534.2 760 L549.6 760 Z" fill="#3f3f3f" stroke-width="1"/>
<!-- AC bracket -->
<path d="M480 845 L480 831 Q480 827 484 827 L596 827 Q600 827 600 831 L600 845"/>
<!-- AC out of inverter -->
<path d="M570.4 748 L570.4 793 Q570.4 799.4 577 799.4 L676 799.4"/>
<path d="M690.5 799.4 L675 791.7 L675 807.1 Z" fill="#3f3f3f" stroke-width="1"/>
<!-- distribution vertical -->
<path d="M714.5 685 L705 685 Q697.8 685 697.8 692 L697.8 897 Q697.8 904 705 904 L715 904"/>
<path d="M729.5 685 L714.5 678.2 L714.5 691.8 Z" fill="#3f3f3f" stroke-width="1"/>
<path d="M729.5 904 L714.5 897.2 L714.5 910.8 Z" fill="#3f3f3f" stroke-width="1"/>
<!-- fridge -->
<rect x="735.6" y="657.2" width="29" height="48" rx="3.2" stroke-width="2"/>
<path d="M736 672.4 L764 672.4" stroke-width="1.8"/>
<path d="M739.8 663.5 L739.8 667.5 M739.8 680 L739.8 683.8" stroke-width="1.7"/>
<path d="M736 698 Q743 695.5 750 696.5 Q757 697.5 764 696" stroke-width="1.7"/>
<!-- TV -->
<rect x="800" y="662" width="52" height="33" rx="1.5" stroke-width="2"/>
<rect x="804.5" y="665.5" width="42" height="24" fill="#3f3f3f" stroke="none"/>
<path d="M826 695.5 L826 698 M816.5 701.5 L835.5 701.5 L831 698 L821 698 Z" fill="#3f3f3f" stroke-width="1.5"/>
<!-- AC unit -->
<rect x="886" y="663.5" width="69" height="31.5" rx="5" stroke-width="2"/>
<path d="M893 669.2 L936.5 669.2" stroke-width="2"/>
<circle cx="942.5" cy="669.2" r="1.4" fill="#3f3f3f" stroke="none"/>
<path d="M942.5 673 L942.5 676.5" stroke-width="1.2"/>
<rect x="890" y="682.2" width="60" height="8" fill="#3f3f3f" stroke="none"/>
<path d="M891 684.8 L949 684.8 M891 687.6 L949 687.6" stroke="#cfcfcf" stroke-width="0.8"/>
<path d="M903 698.5 Q900 701 903 703.5 Q906 706 903 708.5 Q900 711 903 712.5 M913 698.5 Q910 701 913 703.5 Q916 706 913 708.5 Q910 711 913 712.5 M923 698.5 Q920 701 923 703.5 Q926 706 923 708.5 Q920 711 923 712.5 M933 698.5 Q930 701 933 703.5 Q936 706 933 708.5 Q930 711 933 712.5" stroke-width="1.4"/>
<!-- generator -->
<path d="M479 845 L479 833 Q479 829 483 829" stroke-width="2.3"/>
<path d="M443.5 890.5 L443.5 865 L449 865 M491.5 865 L497 865 L497 890.5 L491 890.5 M449.5 890.5 L443.5 890.5" stroke-width="1.8"/>
<path d="M450.5 905 L450.5 882 Q450.5 876.5 455 876.5 L466 876.5 Q469 876.5 469.5 879 L471.5 879 Q472 876.5 475 876.5 L486 876.5 Q490.5 876.5 490.5 882 L490.5 905 Q490.5 907 488.5 907 L452.5 907 Q450.5 907 450.5 905 Z" fill="#3f3f3f" stroke="none"/>
<rect x="452" y="903" width="7" height="4.5" rx="1" fill="#3f3f3f" stroke="none"/>
<rect x="481" y="903" width="7" height="4.5" rx="1" fill="#3f3f3f" stroke="none"/>
<ellipse cx="471" cy="858" rx="6.5" ry="5.5" fill="#3f3f3f" stroke="none" transform="rotate(20 471 858)"/>
<ellipse cx="471" cy="859" rx="13" ry="3.2" stroke-width="1.6" transform="rotate(20 471 859)"/>
<!-- state grid towers -->
<g stroke-width="1.9">
<path d="M572 910.5 L575.4 880 M584 910.5 L581.4 880"/>
<rect x="574.6" y="869.7" width="5.9" height="4.8" stroke-width="1.7"/>
<path d="M566 877.8 L568 875.4 L587 875.4 L589 877.8 L587 880.2 L568 880.2 Z" stroke-width="1.7"/>
<path d="M575.6 881 L582 888 L574.6 896 L583 905"/>
<path d="M565 910.5 L589 910.5"/>
<path d="M604.3 910.5 L607.3 864 M618 910.5 L615.8 864"/>
<rect x="607.3" y="853.5" width="8.5" height="10.2" stroke-width="1.8"/>
<path d="M605 864.2 L622 864.2 L625 860.5" stroke-width="1.8"/>
<path d="M607.5 870 L615.5 877 L606.5 885 L616.5 893 L606 902 L616.5 910"/>
<path d="M598.4 910.5 L625.6 910.5"/>
<path d="M583 873 Q592 865 600 863.5 M584.8 876.5 Q596 873 606.5 871.5 M600.5 859.5 L600.5 863.5" stroke-width="1.5"/>
</g>
<!-- battery icon -->
<rect x="737.5" y="873.5" width="20" height="39.5" rx="2.5" stroke-width="2"/>
<rect x="742.5" y="870.3" width="10" height="3.4" fill="#3f3f3f" stroke="none"/>
<rect x="741" y="889" width="13" height="6" fill="#3f3f3f" stroke="none"/>
<rect x="741" y="896.5" width="13" height="6" fill="#3f3f3f" stroke="none"/>
<rect x="741" y="904" width="13" height="6" fill="#3f3f3f" stroke="none"/>
<!-- plug -->
<path d="M772 865 L772 874 M787 865 L787 874" stroke-width="2.3"/>
<path d="M767.5 874.5 L791.5 874.5 L791.5 879 L788 879 L788 887 Q788 893 779.5 893 Q771 893 771 887 L771 879 L767.5 879 Z" stroke-width="1.9"/>
<path d="M779.5 893 L779.5 919 Q779.5 925 773.5 925 L753 925 Q747.5 925 747.5 919 L747.5 913.5" stroke-width="2"/>
<path d="M788 886 L805 886 Q809 886 809 882 L809 856 Q809 852 813 852 L848 852" stroke-width="2"/>
<path d="M848 852 L848 829 Q848 824.5 852.5 824.5 L864 824.5 M848 852 L848 877 Q848 881.5 852.5 881.5 L864 881.5"/>
<path d="M878 824.5 L863 817.7 L863 831.3 Z M878 881.5 L863 874.7 L863 888.3 Z" fill="#3f3f3f" stroke-width="1"/>
<!-- motorcycle -->
<g stroke="none">
<circle cx="898.6" cy="829.6" r="8" fill="#3f3f3f"/>
<circle cx="898.6" cy="829.6" r="5" fill="#fff"/>
<path d="M887.5 827.3 L906.5 827.3 L906.5 831 L887.5 831 Z" fill="#3f3f3f"/>
<circle cx="938" cy="828" r="7.4" fill="none" stroke="#3f3f3f" stroke-width="2.2"/>
<circle cx="938" cy="828" r="1.3" fill="#3f3f3f"/>
<path d="M890 819 Q891 815 896 814 L903 813.5 L909 815.5 L912 815 L916 812 L923 810 L925 813 L924 819 L927 815 L929 817 L926 823 L922 830 L910 831.5 L905 827 L893 825 Z" fill="#3f3f3f"/>
<path d="M926.5 815 L938 828" stroke="#3f3f3f" stroke-width="2.1"/>
<path d="M913.5 805.5 Q917 802.5 921.5 803.5 L924.5 807" stroke="#3f3f3f" stroke-width="1.8" fill="none"/>
<path d="M926.5 806 Q931 806 932.5 810 L931.5 815 L927 814 Z" fill="#3f3f3f"/>
<path d="M910 812 L920 808.5 L922 810.5 L912 814.5 Z" fill="#3f3f3f"/>
</g>
<!-- car -->
<g stroke="none">
<path d="M882.5 880 L883 872 Q884 868 888 866.5 L891 865 L917 863.6 L934 870 L947 873 Q953 875 953.5 880 L953.2 884 L882.8 885 Z" fill="#3f3f3f"/>
<path d="M897.6 871.6 L898 868.5 L901 866.6 L917 866 L930.6 871.6 Z" fill="#fff"/>
<path d="M919.5 874.5 L911 880.5 L915.5 880.5 L911.5 886 L922 878.5 L917.5 878.5 L921.5 874.5 Z" fill="#fff"/>
</g>
<circle cx="894.4" cy="886" r="5.6" fill="#fff" stroke="#3f3f3f" stroke-width="2.4"/>
<circle cx="938" cy="886" r="5.6" fill="#fff" stroke="#3f3f3f" stroke-width="2.4"/>
</g>
<g id="diagram-text" fill="#424242" font-weight="bold" font-size="16.8">
<text x="312.4" y="753.4" textLength="94.6" lengthAdjust="spacingAndGlyphs">Solar Panel</text>
<text x="579.2" y="702" textLength="66.8" lengthAdjust="spacingAndGlyphs">Inverter</text>
<text x="759.5" y="739" textLength="190.5" lengthAdjust="spacingAndGlyphs">Household Appliances</text>
<text x="428" y="945.5" textLength="85.5" lengthAdjust="spacingAndGlyphs">Generator</text>
<text x="553.5" y="945.5" textLength="85" lengthAdjust="spacingAndGlyphs">State Grid</text>
<text x="839" y="931" textLength="126" lengthAdjust="spacingAndGlyphs">Transportation</text>
<g font-style="italic" font-size="18.5">
<text x="433" y="695" textLength="30.5" lengthAdjust="spacingAndGlyphs">DC</text>
<text x="391.5" y="795" textLength="30.5" lengthAdjust="spacingAndGlyphs">DC</text>
<text x="608.5" y="788" textLength="30.5" lengthAdjust="spacingAndGlyphs">AC</text>
<text x="527.5" y="845" textLength="30.5" lengthAdjust="spacingAndGlyphs">AC</text>
<text x="811.5" y="845.5" textLength="30.5" lengthAdjust="spacingAndGlyphs">DC</text>
</g>
</g>

<!-- ============ BATTERY ============ -->
<g id="battery">
<defs>
<linearGradient id="bfront" x1="0" y1="0" x2="1" y2="1">
<stop offset="0" stop-color="#f1f1f1"/>
<stop offset="0.5" stop-color="#ececec"/>
<stop offset="1" stop-color="#e6e6e6"/>
</linearGradient>
<linearGradient id="bside" x1="0" y1="0" x2="1" y2="0">
<stop offset="0" stop-color="#dedede"/>
<stop offset="0.3" stop-color="#e6e6e6"/>
<stop offset="1" stop-color="#ececec"/>
</linearGradient>
</defs>
<!-- handles / terminals -->
<path d="M51 704 L51 694 Q51 690.5 55 690.5 L78 690.5 Q82.5 690.5 82.5 695 L82.5 704 Z" fill="#2b2b2b"/>
<path d="M66 691 L82 691 L82.5 704 L66 704 Z" fill="#3a3a3a"/>
<path d="M187 704 L187 690 Q187 686.5 191 686.5 L211 687.5 Q215 688 215 692 L215 704 L207 704 L207 695 Q207 694 205.5 694 L196 693.5 Q194.5 693.5 194.5 695 L194.5 704 Z" fill="#262626"/>
<path d="M153 701.5 L153 690 Q153 688.5 155 688.5 L171 688.5 Q173 688.5 173 690.5 L173 701.5 Z" fill="#ee3124"/>
<path d="M105 702 L105 696 L112 694.5 L118 695 L128 697.5 L129 702 Z" fill="#e8e8e8"/>
<path d="M105.5 696 L110 694.3 L115 695.5 L112 697.5 Z" fill="#e23a32"/>
<!-- body -->
<path d="M30.4 704 L189 704 L189 964.5 L30.4 948.4 Z" fill="url(#bfront)"/>
<path d="M189 704 L223 704 L223 945.3 L189 964.5 Z" fill="url(#bside)"/>
<path d="M189 704 L189 964.5" stroke="#d6d6d6" stroke-width="0.8"/>
<!-- screen -->
<rect x="85" y="724.2" width="42.8" height="33.8" rx="1.2" fill="#1c1c1c"/>
<rect x="89.3" y="729.8" width="33" height="21.5" fill="#fafafa"/>
<rect x="89.8" y="746.8" width="32" height="3.8" fill="#2ec8e6"/>
<rect x="92" y="737" width="10" height="6.5" rx="1" fill="#fff" stroke="#9a9a9a" stroke-width="0.6"/>
<rect x="92.5" y="737.5" width="5.5" height="5.5" fill="#22c44a"/>
<path d="M108 734 h10 M108 738.8 h10 M108 743.5 h10" stroke="#5a6aa0" stroke-width="1.1" stroke-dasharray="2 1.2"/>
<!-- side port -->
<rect x="199.5" y="725" width="16" height="23" rx="1" fill="#8a8a8a"/>
<rect x="201" y="726.5" width="13" height="17" fill="#111"/>
<!-- logo -->
<circle cx="77.5" cy="769.3" r="5" fill="none" stroke="#3aa07b" stroke-width="1.6"/>
<path d="M73 770 Q77.5 766 82 770 M74 773 Q77.5 769.5 81.5 772.5" stroke="#3aa07b" stroke-width="1.2" fill="none"/>
<text x="84.5" y="774.3" font-size="11" fill="#3aa07b" textLength="51.5" lengthAdjust="spacingAndGlyphs">GRANDTECH</text>
</g>

</svg>
</body>
</html>
